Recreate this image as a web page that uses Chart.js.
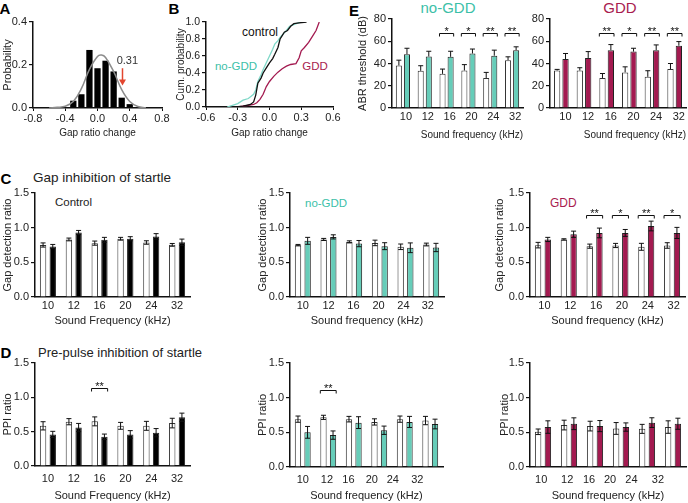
<!DOCTYPE html>
<html>
<head>
<meta charset="utf-8">
<script src="https://cdn.jsdelivr.net/npm/chart.js@4.4.1/dist/chart.umd.min.js"></script>
<style>
  body { margin: 0; background: #fff; width: 688px; height: 503px; position: relative; overflow: hidden;
         font-family: "Liberation Sans", Arial, sans-serif; color: #222; }
  canvas { position: absolute; }
  .t { position: absolute; white-space: nowrap; line-height: 1; transform: translate(-50%, -50%); }
  .l { position: absolute; white-space: nowrap; line-height: 1; transform: translateY(-50%); }
  .p { font-weight: bold; font-size: 15px; color: #000; }
</style>
</head>
<body>

<div class="t p" style="left:5px;top:8px">A</div>
<div class="t p" style="left:174px;top:8px">B</div>
<div class="t p" style="left:354px;top:10px">E</div>
<div class="t p" style="left:6px;top:178px">C</div>
<div class="t p" style="left:6px;top:352px">D</div>

<div class="l" style="left:33px;top:178px;font-size:13.5px">Gap inhibition of startle</div>
<div class="l" style="left:38px;top:352px;font-size:13px">Pre-pulse inhibition of startle</div>

<div class="l" style="left:55px;top:203px;font-size:11.5px">Control</div>
<div class="l" style="left:305px;top:204px;font-size:11.5px;color:#3cbfa8">no-GDD</div>
<div class="l" style="left:550px;top:203px;font-size:12px;color:#a81c4f">GDD</div>

<div class="t" style="left:448px;top:7px;font-size:15px;color:#3cbfa8">no-GDD</div>
<div class="t" style="left:620px;top:7px;font-size:15px;color:#a81c4f">GDD</div>

<div class="t" style="left:260px;top:32px;font-size:12px;color:#111">control</div>
<div class="t" style="left:236px;top:67px;font-size:11.5px;color:#3cbfa8">no-GDD</div>
<div class="t" style="left:315px;top:67px;font-size:11.5px;color:#a81c4f">GDD</div>

<script>
// ---- data ----
const freqLabels = ['10', '12', '16', '20', '24', '32'];

// A: histogram of gap ratio change + fitted curve
const histX = [-0.3, -0.2, -0.1, 0.0, 0.1, 0.2, 0.3, 0.4];
const histProb = [0.034, 0.064, 0.27, 0.185, 0.22, 0.17, 0.048, 0.018];
const fitX = [-0.6, -0.5, -0.4, -0.3, -0.2, -0.1, 0.0, 0.05, 0.1, 0.2, 0.3, 0.4, 0.5, 0.6];
const fitY = [0.0, 0.003, 0.008, 0.03, 0.09, 0.18, 0.24, 0.246, 0.235, 0.17, 0.085, 0.03, 0.007, 0.001];

// B: cumulative probability
const cdfControlX = [-0.32, -0.25, -0.18, -0.15, -0.13, -0.11, -0.08, -0.06, -0.03, 0.0, 0.03, 0.05, 0.08, 0.1, 0.12, 0.14, 0.17, 0.2, 0.23, 0.28, 0.35];
const cdfControlY = [0, 0.01, 0.03, 0.06, 0.14, 0.28, 0.34, 0.4, 0.46, 0.52, 0.57, 0.62, 0.7, 0.8, 0.84, 0.88, 0.9, 0.95, 0.98, 0.99, 1.0];
const cdfNoGddX = [-0.4, -0.35, -0.3, -0.25, -0.2, -0.15, -0.13, -0.11, -0.08, -0.06, -0.03, 0.0, 0.03, 0.05, 0.08, 0.1, 0.13, 0.16, 0.19, 0.23, 0.27, 0.3];
const cdfNoGddY = [0, 0.02, 0.04, 0.08, 0.1, 0.15, 0.2, 0.3, 0.38, 0.44, 0.52, 0.6, 0.68, 0.74, 0.78, 0.82, 0.86, 0.9, 0.95, 0.97, 0.99, 1.0];
const cdfGddX = [-0.3, -0.25, -0.2, -0.15, -0.12, -0.09, -0.06, -0.03, 0.0, 0.04, 0.08, 0.12, 0.16, 0.2, 0.25, 0.28, 0.3, 0.33, 0.37, 0.41, 0.44, 0.47];
const cdfGddY = [0, 0.01, 0.02, 0.03, 0.05, 0.09, 0.15, 0.24, 0.3, 0.36, 0.41, 0.45, 0.48, 0.5, 0.51, 0.58, 0.66, 0.7, 0.76, 0.84, 0.9, 1.0];

// E: ABR thresholds (dB)
const abrCtl1 = [38.2, 33.4, 30.7, 33.7, 27, 43];
const abrCtl1Err = [4.8, 4.6, 4.3, 5.3, 5, 3];
const abrNoGdd = [48.4, 46.3, 46, 49, 47, 52];
const abrNoGddErr = [5.3, 4.7, 5, 4, 5, 3];
const abrCtl2 = [33.7, 33.7, 27, 32, 28, 35];
const abrCtl2Err = [1, 2.5, 4, 5, 5.5, 5];
const abrGdd = [44, 45, 52, 50.7, 52, 56];
const abrGddErr = [5, 5.7, 5, 3, 4.7, 3.7];
const abrNoGddSig = ['', '', '*', '*', '**', '**'];
const abrGddSig = ['', '', '**', '*', '**', '**'];

// C: gap detection ratio
const gapCtl1 = [0.75, 0.83, 0.777, 0.84, 0.786, 0.752];
const gapCtl1Err = [0.03, 0.02, 0.03, 0.02, 0.025, 0.02];
const gapControl = [0.728, 0.93, 0.825, 0.84, 0.874, 0.79];
const gapControlErr = [0.03, 0.03, 0.035, 0.03, 0.04, 0.045];
const gapCtl2 = [0.748, 0.83, 0.795, 0.78, 0.724, 0.757];
const gapCtl2Err = [0.01, 0.015, 0.015, 0.04, 0.04, 0.02];
const gapNoGdd = [0.81, 0.867, 0.77, 0.733, 0.71, 0.714];
const gapNoGddErr = [0.05, 0.03, 0.045, 0.05, 0.07, 0.06];
const gapCtl3 = [0.748, 0.83, 0.733, 0.743, 0.724, 0.743];
const gapCtl3Err = [0.04, 0.01, 0.03, 0.03, 0.05, 0.04];
const gapGdd = [0.83, 0.905, 0.924, 0.924, 1.024, 0.924];
const gapGddErr = [0.03, 0.045, 0.07, 0.05, 0.07, 0.08];
const gapGddSig = ['', '', '**', '*', '**', '*'];

// D: PPI ratio
const ppiCtl1 = [0.585, 0.645, 0.65, 0.585, 0.585, 0.625];
const ppiCtl1Err = [0.06, 0.045, 0.065, 0.05, 0.065, 0.07];
const ppiControl = [0.46, 0.56, 0.425, 0.46, 0.485, 0.71];
const ppiControlErr = [0.045, 0.06, 0.04, 0.055, 0.06, 0.06];
const ppiCtl2 = [0.69, 0.716, 0.69, 0.65, 0.69, 0.67];
const ppiCtl2Err = [0.045, 0.03, 0.04, 0.045, 0.045, 0.06];
const ppiNoGdd = [0.5, 0.46, 0.64, 0.53, 0.65, 0.62];
const ppiNoGddErr = [0.085, 0.06, 0.085, 0.06, 0.08, 0.07];
const ppiCtl3 = [0.508, 0.605, 0.59, 0.556, 0.55, 0.576];
const ppiCtl3Err = [0.04, 0.07, 0.07, 0.085, 0.065, 0.09];
const ppiGdd = [0.576, 0.624, 0.59, 0.576, 0.64, 0.624];
const ppiGddErr = [0.09, 0.085, 0.08, 0.06, 0.07, 0.08];
const ppiControlSig = ['', '', '**', '', '', ''];
const ppiNoGddSig = ['', '**', '', '', '', ''];

// ---- colours ----
const TEAL = '#66cdb9';
const TEAL_LINE = '#7fd8c8';
const CRIMSON = '#a31a50';
const FONT = '"Liberation Sans", Arial, sans-serif';

Chart.defaults.font.family = FONT;
Chart.defaults.color = '#222';
Chart.defaults.animation = false;

// places a canvas and works out paddings so the plot area lands where we want it
function frame(box, area) {
    const c = document.createElement('canvas');
    c.width = box.w; c.height = box.h;
    c.style.left = box.x + 'px'; c.style.top = box.y + 'px';
    c.style.width = box.w + 'px'; c.style.height = box.h + 'px';
    document.body.appendChild(c);
    return {
        canvas: c,
        padding: { left: 0, bottom: 0, top: area.t - box.y, right: box.x + box.w - area.r },
        yw: area.l - box.x,
        xh: box.y + box.h - area.b
    };
}

const fmt1 = v => (Math.abs(v) < 1e-9 ? 0 : v).toFixed(1);

function yAxis(f, o) {
    return {
        min: 0, max: o.max,
        ticks: { stepSize: o.step, padding: 2, font: { size: o.tfs || 11 }, color: '#222', callback: o.fmt || fmt1 },
        grid: { drawOnChartArea: false, drawTicks: true, tickLength: 4, color: '#111', lineWidth: 1.2 },
        border: { color: '#111', width: 1.5 },
        title: { display: !!o.title, text: o.title || '', padding: 0, font: { size: o.yfs || 11 }, color: '#222' },
        afterFit: s => { s.width = f.yw; s.paddingTop = 0; s.paddingBottom = 0; }
    };
}

function xLabelAxis(f, o) {
    return {
        type: 'linear', position: 'bottom', min: -0.5, max: 5.5, offset: false,
        grid: { display: false, drawTicks: false, offset: false },
        border: { color: '#111', width: 1.5 },
        afterBuildTicks: s => { s.ticks = o.tickAt.map(v => ({ value: v })); },
        ticks: { autoSkip: false, maxRotation: 0, padding: o.pad, font: { size: 11 }, color: '#222',
                 callback: (v, i) => freqLabels[i] },
        title: { display: true, text: o.xTitle, padding: 0, align: o.align || 'center',
                 font: { size: o.xfs || 11 }, color: '#222' },
        afterFit: s => { s.height = f.xh; s.paddingLeft = 0; s.paddingRight = 0; }
    };
}

// error bars + significance brackets
const extras = {
    id: 'extras',
    afterDatasetsDraw(chart, args, o) {
        const ctx = chart.ctx, ys = chart.scales.y;
        ctx.save();
        ctx.strokeStyle = '#111';
        ctx.lineWidth = 1;
        (o.errs || []).forEach((err, di) => {
            const vals = chart.data.datasets[di].data;
            chart.getDatasetMeta(di).data.forEach((bar, i) => {
                const top = ys.getPixelForValue(vals[i] + err[i]);
                const bot = o.upperOnly ? bar.y : ys.getPixelForValue(vals[i] - err[i]);
                ctx.beginPath();
                ctx.moveTo(bar.x, top); ctx.lineTo(bar.x, bot);
                ctx.moveTo(bar.x - 2.5, top); ctx.lineTo(bar.x + 2.5, top);
                if (!o.upperOnly) { ctx.moveTo(bar.x - 2.5, bot); ctx.lineTo(bar.x + 2.5, bot); }
                ctx.stroke();
            });
        });
        if (o.sig) {
            const m0 = chart.getDatasetMeta(0).data, m1 = chart.getDatasetMeta(1).data;
            const y = Math.round(ys.getPixelForValue(o.sigY)) + 0.5;
            ctx.fillStyle = '#111';
            ctx.font = '11px ' + FONT;
            ctx.textAlign = 'center';
            ctx.textBaseline = 'alphabetic';
            o.sig.forEach((s, i) => {
                if (!s) return;
                const l = m0[i].x - m0[i].width / 2, r = m1[i].x + m1[i].width / 2;
                ctx.beginPath();
                ctx.moveTo(l, y + 3); ctx.lineTo(l, y); ctx.lineTo(r, y); ctx.lineTo(r, y + 3);
                ctx.stroke();
                ctx.fillText(s, (l + r) / 2, y + 1);
            });
        }
        ctx.restore();
    }
};

function groupBars(f, o) {
    return new Chart(f.canvas, {
        type: 'bar',
        data: {
            labels: freqLabels,
            datasets: [
                { data: o.ctl, backgroundColor: '#fff', borderColor: '#333', borderWidth: 1 },
                { data: o.val, backgroundColor: o.color, borderColor: '#222', borderWidth: 1 }
            ]
        },
        options: {
            responsive: false,
            animation: false,
            layout: { padding: f.padding },
            datasets: { bar: { categoryPercentage: o.cp, barPercentage: o.bp } },
            plugins: {
                legend: { display: false },
                tooltip: { enabled: false },
                extras: { errs: [o.ctlErr, o.valErr], upperOnly: o.upperOnly, sig: o.sig, sigY: o.sigY }
            },
            scales: {
                x: { type: 'category', offset: true, display: false },
                xl: xLabelAxis(f, o),
                y: yAxis(f, o)
            }
        },
        plugins: [extras]
    });
}

// red arrow in panel A
const arrow = {
    id: 'arrow',
    afterDatasetsDraw(chart, args, o) {
        const { ctx, scales: { x, y } } = chart;
        const px = x.getPixelForValue(o.x), y0 = y.getPixelForValue(o.from), y1 = y.getPixelForValue(o.to);
        ctx.save();
        ctx.strokeStyle = '#e2462f';
        ctx.fillStyle = '#e2462f';
        ctx.lineWidth = 1.5;
        ctx.beginPath(); ctx.moveTo(px, y0); ctx.lineTo(px, y1 - 4); ctx.stroke();
        ctx.beginPath(); ctx.moveTo(px - 3.5, y1 - 6); ctx.lineTo(px + 3.5, y1 - 6); ctx.lineTo(px, y1); ctx.closePath(); ctx.fill();
        ctx.fillStyle = '#333';
        ctx.font = '11px ' + FONT;
        ctx.textAlign = 'center';
        ctx.textBaseline = 'middle';
        ctx.fillText(o.text, x.getPixelForValue(o.tx), y.getPixelForValue(o.ty));
        ctx.restore();
    }
};

function linearX(f, o) {
    return {
        type: 'linear', min: o.min, max: o.max, offset: false,
        grid: { display: true, drawOnChartArea: false, drawTicks: true, tickLength: 3, color: '#111', offset: false },
        border: { color: '#111', width: 1.5 },
        ticks: { stepSize: o.step, padding: 1, font: { size: o.tfs || 11 }, color: '#222', maxRotation: 0, autoSkip: false, callback: fmt1 },
        title: { display: true, text: 'Gap ratio change', padding: 0, font: { size: 10 }, color: '#222' },
        afterFit: s => { s.height = f.xh; s.paddingLeft = 0; s.paddingRight = 0; }
    };
}

// ---- A ----
const fa = frame({ x: 1, y: 0, w: 172, h: 139 }, { l: 33, t: 22, r: 162, b: 108 });
new Chart(fa.canvas, {
    type: 'bar',
    data: {
        datasets: [
            { type: 'line', data: fitX.map((x, i) => ({ x, y: fitY[i] })), borderColor: '#8c8c8c',
              borderWidth: 1.5, pointRadius: 0, tension: 0.4, order: 0 },
            { data: histX.map((x, i) => ({ x, y: histProb[i] })), backgroundColor: '#000',
              categoryPercentage: 0.78, barPercentage: 1, order: 1 }
        ]
    },
    options: {
        responsive: false, animation: false,
        layout: { padding: fa.padding },
        plugins: { legend: { display: false }, tooltip: { enabled: false },
                   arrow: { x: 0.31, from: 0.185, to: 0.105, text: '0.31', tx: 0.37, ty: 0.218 } },
        scales: {
            x: linearX(fa, { min: -0.8, max: 0.8, step: 0.4 }),
            y: yAxis(fa, { max: 0.4, step: 0.2, title: 'Probability' })
        }
    },
    plugins: [arrow]
});

// ---- B ----
const fb = frame({ x: 175, y: 0, w: 170, h: 139 }, { l: 206, t: 22, r: 333, b: 107 });
const pts = (xs, ys) => xs.map((x, i) => ({ x, y: ys[i] }));
new Chart(fb.canvas, {
    type: 'scatter',
    data: {
        datasets: [
            { data: pts(cdfGddX, cdfGddY), borderColor: CRIMSON, order: 2 },
            { data: pts(cdfNoGddX, cdfNoGddY), borderColor: TEAL_LINE, order: 1 },
            { data: pts(cdfControlX, cdfControlY), borderColor: '#111', order: 0 }
        ]
    },
    options: {
        responsive: false, animation: false,
        layout: { padding: fb.padding },
        datasets: { scatter: { showLine: true, pointRadius: 0, borderWidth: 1.3, tension: 0 } },
        plugins: { legend: { display: false }, tooltip: { enabled: false } },
        scales: {
            x: linearX(fb, { min: -0.6, max: 0.6, step: 0.3 }),
            y: yAxis(fb, { max: 1.0, step: 0.2, title: 'Cum. probability', yfs: 10, tfs: 10.5 })
        }
    }
});

// ---- E ----
const intFmt = v => String(v);
groupBars(frame({ x: 356, y: 0, w: 176, h: 141 }, { l: 392, t: 19, r: 523, b: 108 }), {
    ctl: abrCtl1, ctlErr: abrCtl1Err, val: abrNoGdd, valErr: abrNoGddErr, color: TEAL,
    upperOnly: true, sig: abrNoGddSig, sigY: 67.8,
    max: 80, step: 20, fmt: intFmt, title: 'ABR threshold (dB)',
    xTitle: 'Sound frequency (kHz)', xfs: 10, align: 'end', pad: 2,
    tickAt: [0.14, 1.14, 2.14, 3.14, 4.14, 5.14], cp: 0.74, bp: 0.75
});
groupBars(frame({ x: 528, y: 0, w: 160, h: 141 }, { l: 550, t: 19, r: 686, b: 108 }), {
    ctl: abrCtl2, ctlErr: abrCtl2Err, val: abrGdd, valErr: abrGddErr, color: CRIMSON,
    upperOnly: true, sig: abrGddSig, sigY: 67.8,
    max: 80, step: 20, fmt: intFmt,
    xTitle: 'Sound frequency (kHz)', xfs: 10, align: 'end', pad: 2,
    tickAt: [0.18, 1.18, 2.18, 3.18, 4.18, 5.18], cp: 0.74, bp: 0.75
});

// ---- C ----
groupBars(frame({ x: 1, y: 186, w: 195, h: 142 }, { l: 35, t: 193, r: 190, b: 297 }), {
    ctl: gapCtl1, ctlErr: gapCtl1Err, val: gapControl, valErr: gapControlErr, color: '#000',
    max: 1.5, step: 0.5, title: 'Gap detection ratio',
    xTitle: 'Sound Frequency (kHz)', pad: 2,
    tickAt: [0, 1, 2, 3, 4, 5], cp: 0.75, bp: 0.66
});
groupBars(frame({ x: 256, y: 186, w: 194, h: 142 }, { l: 290, t: 193, r: 444, b: 297 }), {
    ctl: gapCtl2, ctlErr: gapCtl2Err, val: gapNoGdd, valErr: gapNoGddErr, color: TEAL,
    max: 1.5, step: 0.5, title: 'Gap detection ratio',
    xTitle: 'Sound frequency (kHz)', pad: 2,
    tickAt: [0, 1, 1.97, 2.95, 3.92, 4.87], cp: 0.75, bp: 0.66
});
groupBars(frame({ x: 493, y: 186, w: 195, h: 142 }, { l: 530, t: 193, r: 685, b: 297 }), {
    ctl: gapCtl3, ctlErr: gapCtl3Err, val: gapGdd, valErr: gapGddErr, color: CRIMSON,
    sig: gapGddSig, sigY: 1.176,
    max: 1.5, step: 0.5, title: 'Gap detection ratio',
    xTitle: 'Sound frequency (kHz)', pad: 2,
    tickAt: [0.06, 1.06, 2.06, 3.06, 4.06, 5.06], cp: 0.75, bp: 0.66
});

// ---- D ----
groupBars(frame({ x: 1, y: 356, w: 195, h: 147 }, { l: 35, t: 363, r: 190, b: 466 }), {
    ctl: ppiCtl1, ctlErr: ppiCtl1Err, val: ppiControl, valErr: ppiControlErr, color: '#000',
    sig: ppiControlSig, sigY: 1.135,
    max: 1.5, step: 0.5, title: 'PPI ratio',
    xTitle: 'Sound Frequency (kHz)', pad: 6,
    tickAt: [0, 1, 2, 3, 4, 5], cp: 0.75, bp: 0.66
});
groupBars(frame({ x: 256, y: 356, w: 194, h: 147 }, { l: 290, t: 363, r: 443, b: 467 }), {
    ctl: ppiCtl2, ctlErr: ppiCtl2Err, val: ppiNoGdd, valErr: ppiNoGddErr, color: TEAL,
    sig: ppiNoGddSig, sigY: 1.11,
    max: 1.5, step: 0.5, title: 'PPI ratio',
    xTitle: 'Sound frequency (kHz)', pad: 6,
    tickAt: [0, 0.95, 1.79, 2.71, 3.53, 4.49], cp: 0.75, bp: 0.66
});
groupBars(frame({ x: 498, y: 356, w: 190, h: 147 }, { l: 530, t: 363, r: 686, b: 467 }), {
    ctl: ppiCtl3, ctlErr: ppiCtl3Err, val: ppiGdd, valErr: ppiGddErr, color: CRIMSON,
    max: 1.5, step: 0.5, title: 'PPI ratio',
    xTitle: 'Sound frequency (kHz)', pad: 6,
    tickAt: [-0.07, 0.93, 1.77, 2.58, 3.4, 4.42], cp: 0.75, bp: 0.66
});
</script>
</body>
</html>
